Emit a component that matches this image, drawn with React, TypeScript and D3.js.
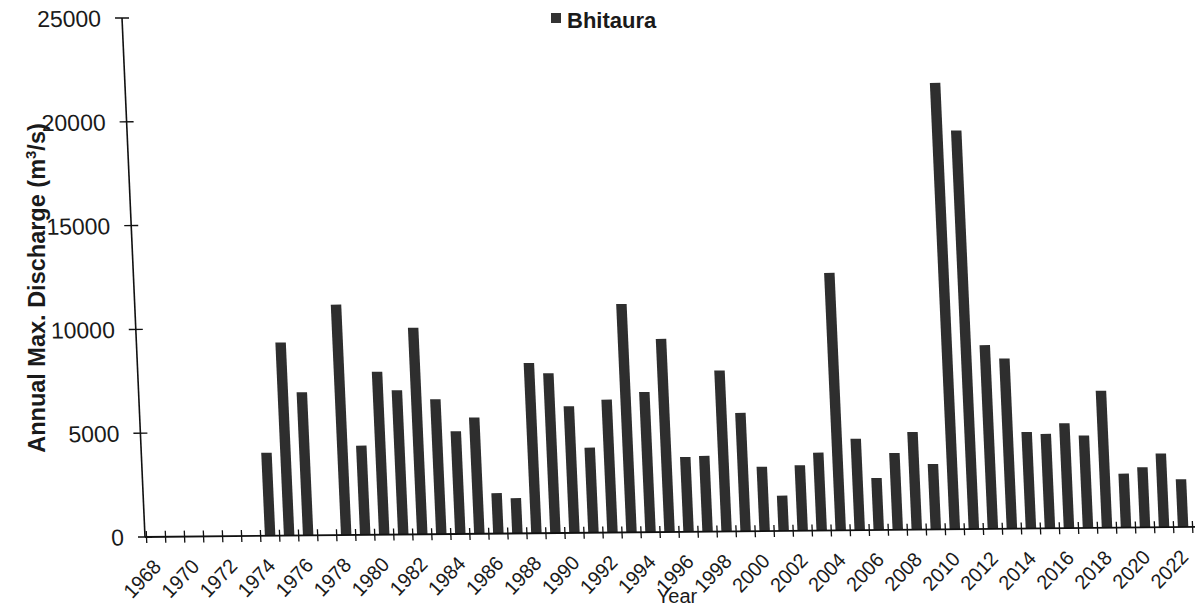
import React from "react";
import * as d3 from "d3";

const years: number[] = d3.range(1968, 2023);
const discharge: number[] = [
  0, 0, 0, 0, 0, 0, 4000, 9300, 6900, 0,
  11100, 4300, 7850, 6950, 9950, 6500, 4950, 5600, 1950, 1700,
  8200, 7700, 6100, 4100, 6400, 11000, 6750, 9300, 3600, 3650,
  7750, 5700, 3100, 1700, 3150, 3750, 12400, 4400, 2500, 3700,
  4700, 3150, 21500, 19200, 8850, 8200, 4650, 4550, 5050, 4450,
  6600, 2600, 2900, 3550, 2300,
];
const yTicks: number[] = [0, 5000, 10000, 15000, 20000, 25000];
const seriesName = "Bhitaura";

const FONT = "'Liberation Sans', Arial, Helvetica, sans-serif";

export default function App() {
  const W = 1046;
  const H = 519;
  const x = d3
    .scaleBand<number>()
    .domain(years)
    .range([1.5, 1.5 + 55 * 19.02])
    .paddingInner(0.45)
    .paddingOuter(0.225);
  const y = d3.scaleLinear().domain([0, 25000]).range([0, -H]);
  const step = x.step();
  const boundaries = d3.range(0, years.length + 1).map((i) => 1.5 + i * step);

  return (
    <svg
      width={1197}
      height={612}
      style={{ position: "absolute", left: 0, top: 0, background: "#fff" }}
    >
      <rect x={0} y={0} width={1197} height={612} fill="#fff" />
      <g transform="matrix(1,-0.0096,0.0443,1,145,537)" fontFamily={FONT}>
        {years.map((yr, i) => (
          <rect
            key={yr}
            x={x(yr)}
            y={y(discharge[i])}
            width={x.bandwidth()}
            height={-y(discharge[i])}
            fill="#2e2e2e"
          />
        ))}
        {/* y axis */}
        <line x1={0} x2={0} y1={0} y2={-H} stroke="#111" strokeWidth={1.6} />
        {yTicks.map((t) => (
          <g key={t}>
            <line x1={-7} x2={7} y1={y(t)} y2={y(t)} stroke="#111" strokeWidth={1.4} />
            <text
              x={-21}
              y={y(t)}
              dy="0.36em"
              textAnchor="end"
              fontSize={23}
              fill="#1a1a1a"
            >
              {t}
            </text>
          </g>
        ))}
        {/* x axis */}
        <line x1={0} x2={W + 4} y1={0} y2={0} stroke="#111" strokeWidth={1.8} />
        {boundaries.map((b, i) => (
          <line key={i} x1={b} x2={b} y1={-6} y2={6} stroke="#111" strokeWidth={1.3} />
        ))}
        {years
          .filter((yr) => yr % 2 === 0)
          .map((yr) => (
            <text
              key={yr}
              transform={`translate(${(x(yr) ?? 0) + x.bandwidth() / 2 + 5},${31}) rotate(-45)`}
              textAnchor="end"
              fontSize={20}
              fill="#1a1a1a"
            >
              {yr}
            </text>
          ))}
      </g>
      <text x={677} y={603} textAnchor="middle" fontSize={20} fontFamily={FONT} fill="#1a1a1a">
        Year
      </text>
      <text
        transform="translate(45,288) rotate(-90)"
        textAnchor="middle"
        fontSize={23.5}
        fontWeight="bold"
        fontFamily={FONT}
        fill="#1a1a1a"
      >
        Annual Max. Discharge (m
        <tspan dy={-9} fontSize={15}>3</tspan>
        <tspan dy={9}>/s)</tspan>
      </text>
      <rect x={551} y={13} width={10} height={10} fill="#333" />
      <text x={567} y={28} fontSize={22} fontWeight="bold" fontFamily={FONT} fill="#1a1a1a">
        {seriesName}
      </text>
    </svg>
  );
}
